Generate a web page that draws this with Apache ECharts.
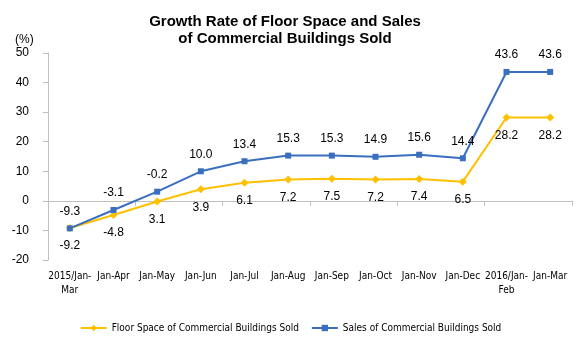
<!DOCTYPE html>
<html>
<head>
<meta charset="utf-8">
<script src="https://cdn.jsdelivr.net/npm/echarts@6/dist/echarts.min.js"></script>
<style>html,body{margin:0;padding:0;background:#fff;}#c{width:581px;height:346px;}</style>
</head>
<body>
<div id="c"></div>
<script>
const categories = ['2015/Jan-\nMar','Jan-Apr','Jan-May','Jan-Jun','Jan-Jul','Jan-Aug','Jan-Sep','Jan-Oct','Jan-Nov','Jan-Dec','2016/Jan-\nFeb','Jan-Mar'];
const floorSpace = [-9.2, -4.8, -0.2, 3.9, 6.1, 7.2, 7.5, 7.2, 7.4, 6.5, 28.2, 28.2];
const sales = [-9.3, -3.1, 3.1, 10.0, 13.4, 15.3, 15.3, 14.9, 15.6, 14.4, 43.6, 43.6];
const floorLabels = ['-9.2','-4.8','3.1','3.9','6.1','7.2','7.5','7.2','7.4','6.5','28.2','28.2'];
const salesLabels = ['-9.3','-3.1','-0.2','10.0','13.4','15.3','15.3','14.9','15.6','14.4','43.6','43.6'];
const yTicks = [-20, -10, 0, 10, 20, 30, 40, 50];

const font = '"Liberation Sans", Arial, sans-serif';
const narrow = '"DejaVu Sans Condensed", "Liberation Sans", Arial, sans-serif';
const chart = echarts.init(document.getElementById('c'));
chart.setOption({
  animation: false,
  backgroundColor: '#fff',
  title: {
    text: 'Growth Rate of Floor Space and Sales\nof Commercial Buildings Sold',
    left: 280, top: 8, textAlign: 'center',
    textStyle: {fontFamily: font, fontSize: 15, fontWeight: 'bold', color: '#000', lineHeight: 17}
  },
  graphic: [{type: 'text', left: 15, top: 34, style: {text: '(%)', font: '12px ' + font, fill: '#000'}}],
  legend: {
    bottom: 8, left: 'center', itemGap: 12, itemWidth: 26, itemHeight: 8,
    textStyle: {fontFamily: narrow, fontSize: 10, color: '#000'},
    data: ['Floor Space of Commercial Buildings Sold', 'Sales of Commercial Buildings Sold']
  },
  grid: {left: 48, right: 9, top: 53, bottom: 86, containLabel: false},
  xAxis: [{
    type: 'category', data: categories, boundaryGap: true, position: 'bottom',
    axisLine: {show: false, onZero: false}, axisTick: {show: false},
    axisLabel: {fontFamily: narrow, fontSize: 10, color: '#000', interval: 0, margin: 9, lineHeight: 14}
  }, {
    type: 'category', data: categories, boundaryGap: true, position: 'bottom',
    axisLine: {show: true, onZero: true, lineStyle: {color: '#bfbfbf', width: 1}},
    axisTick: {show: true, length: 5, inside: false, lineStyle: {color: '#bfbfbf'}},
    axisLabel: {show: false}
  }],
  yAxis: {
    type: 'value', min: yTicks[0], max: yTicks[yTicks.length - 1], interval: 10,
    splitLine: {show: false},
    axisLine: {show: true, lineStyle: {color: '#bfbfbf'}},
    axisTick: {show: true, length: 5, lineStyle: {color: '#bfbfbf'}},
    axisLabel: {fontFamily: font, fontSize: 12, color: '#000', margin: 19}
  },
  series: [{
    name: 'Floor Space of Commercial Buildings Sold', type: 'line', data: floorSpace,
    symbol: 'diamond', symbolSize: 8, color: '#FFC000',
    lineStyle: {width: 2, color: '#FFC000'}, itemStyle: {color: '#FFC000'},
    label: {show: true, position: 'bottom', distance: 8, fontFamily: font, fontSize: 12, color: '#000',
      formatter: p => floorLabels[p.dataIndex]}
  }, {
    name: 'Sales of Commercial Buildings Sold', type: 'line', data: sales,
    symbol: 'rect', symbolSize: 6, color: '#3A6EBF',
    lineStyle: {width: 2, color: '#3A6EBF'}, itemStyle: {color: '#3A6EBF'},
    label: {show: true, position: 'top', distance: 8, fontFamily: font, fontSize: 12, color: '#000',
      formatter: p => salesLabels[p.dataIndex]}
  }]
});
</script>
</body>
</html>
